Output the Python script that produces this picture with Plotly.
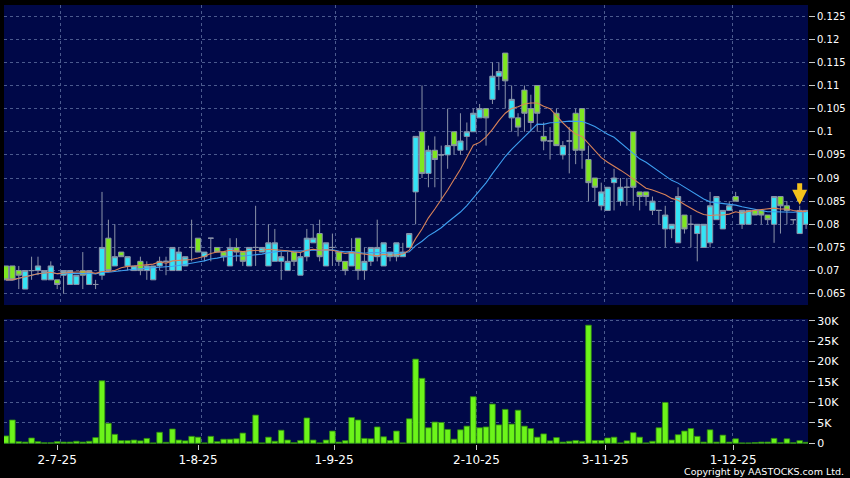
import plotly.graph_objects as go
import pandas as pd

# ---- data (one entry per trading day) ----
opens = [0.071,0.071,0.070,0.066,0.070,0.070,0.068,0.068,0.068,0.069,0.067,0.067,0.070,0.067,0.067,0.069,0.077,0.071,0.074,0.071,
         0.070,0.072,0.070,0.068,0.071,0.072,0.070,0.070,0.071,0.075,0.077,0.073,0.077,0.075,0.074,0.071,0.075,0.074,0.071,0.075,
         0.074,0.071,0.072,0.072,0.070,0.074,0.069,0.073,0.076,0.078,0.071,0.075,0.074,0.072,0.071,0.077,0.070,0.072,0.073,0.071,
         0.073,0.073,0.073,0.075,0.087,0.100,0.091,0.096,0.095,0.095,0.100,0.096,0.099,0.100,0.103,0.105,0.107,0.112,0.117,0.103,
         0.103,0.109,0.105,0.110,0.099,0.098,0.104,0.095,0.098,0.104,0.105,0.094,0.090,0.084,0.083,0.089,0.085,0.088,0.100,0.087,
         0.087,0.083,0.083,0.079,0.079,0.076,0.082,0.080,0.078,0.075,0.076,0.081,0.079,0.083,0.086,0.080,0.080,0.083,0.083,0.082,
         0.080,0.086,0.084,0.081,0.078,0.080]
highs = [0.071,0.071,0.071,0.070,0.073,0.073,0.070,0.072,0.068,0.070,0.070,0.069,0.074,0.070,0.068,0.087,0.081,0.080,0.074,0.073,
         0.071,0.073,0.072,0.071,0.073,0.073,0.075,0.075,0.073,0.081,0.077,0.074,0.077,0.075,0.074,0.077,0.077,0.074,0.075,0.084,
         0.075,0.080,0.079,0.074,0.074,0.074,0.074,0.079,0.080,0.081,0.076,0.078,0.074,0.072,0.077,0.077,0.075,0.075,0.081,0.076,
         0.074,0.076,0.076,0.078,0.099,0.110,0.097,0.099,0.097,0.105,0.100,0.104,0.102,0.105,0.106,0.105,0.115,0.115,0.117,0.110,
         0.104,0.110,0.108,0.110,0.102,0.101,0.105,0.098,0.101,0.105,0.105,0.097,0.090,0.089,0.088,0.092,0.090,0.090,0.100,0.087,
         0.087,0.086,0.083,0.084,0.080,0.088,0.082,0.082,0.080,0.080,0.087,0.086,0.083,0.085,0.087,0.083,0.083,0.083,0.083,0.082,
         0.086,0.086,0.085,0.081,0.084,0.083]
lows = [0.068,0.068,0.066,0.066,0.068,0.069,0.068,0.068,0.066,0.065,0.067,0.067,0.066,0.067,0.066,0.068,0.070,0.071,0.073,0.070,
        0.070,0.069,0.068,0.068,0.070,0.069,0.070,0.070,0.071,0.072,0.074,0.072,0.072,0.074,0.072,0.071,0.072,0.071,0.071,0.071,
        0.074,0.071,0.072,0.068,0.070,0.071,0.069,0.072,0.076,0.072,0.071,0.071,0.071,0.069,0.071,0.068,0.068,0.071,0.072,0.071,
        0.072,0.072,0.073,0.075,0.080,0.090,0.088,0.088,0.085,0.092,0.095,0.095,0.096,0.100,0.103,0.097,0.106,0.109,0.105,0.100,
        0.099,0.100,0.100,0.100,0.096,0.094,0.097,0.094,0.091,0.093,0.092,0.085,0.085,0.083,0.083,0.083,0.084,0.084,0.084,0.083,
        0.084,0.082,0.080,0.075,0.077,0.076,0.078,0.075,0.072,0.075,0.075,0.081,0.079,0.083,0.085,0.079,0.080,0.082,0.080,0.080,
        0.076,0.078,0.080,0.080,0.078,0.079]
closes = [0.068,0.068,0.069,0.070,0.070,0.071,0.070,0.071,0.067,0.070,0.070,0.069,0.069,0.070,0.067,0.075,0.070,0.073,0.073,0.073,
          0.071,0.070,0.071,0.071,0.072,0.072,0.075,0.074,0.073,0.075,0.074,0.074,0.077,0.074,0.073,0.075,0.074,0.072,0.075,0.075,
          0.075,0.076,0.076,0.073,0.072,0.072,0.073,0.077,0.077,0.073,0.076,0.075,0.072,0.070,0.074,0.070,0.072,0.075,0.075,0.076,
          0.074,0.076,0.074,0.078,0.099,0.091,0.096,0.094,0.095,0.097,0.097,0.098,0.100,0.104,0.105,0.103,0.112,0.113,0.111,0.107,
          0.101,0.104,0.102,0.104,0.098,0.098,0.097,0.097,0.098,0.096,0.096,0.089,0.088,0.087,0.088,0.090,0.088,0.088,0.088,0.086,
          0.086,0.085,0.083,0.082,0.080,0.086,0.079,0.080,0.080,0.080,0.084,0.086,0.083,0.084,0.085,0.083,0.083,0.082,0.082,0.081,
          0.086,0.084,0.083,0.081,0.083,0.083]
volumes = [1800,5700,400,300,1300,400,150,150,400,300,300,500,300,500,1400,15300,4900,2200,650,650,
           800,600,1200,100,2700,250,3500,800,600,1700,1500,100,1700,400,1000,1000,1100,2500,400,6900,
           100,1500,500,3200,800,150,700,6200,800,100,800,3000,300,650,6300,5700,1200,1100,4000,1600,
           700,3000,100,6000,20600,15900,3800,5200,5100,3400,1000,3300,4200,11400,3800,4000,9600,4500,8300,4700,
           8100,4200,3600,1500,2300,600,1400,300,500,700,500,28900,700,700,1300,1500,100,600,2600,1500,
           100,500,3800,10000,800,2100,3000,3600,1700,300,3300,300,2000,300,1100,100,100,200,300,300,
           1200,150,1100,150,650,250]

days = list(range(len(closes)))          # trading-day index
tick_pos = [8, 30, 51.25, 73.5, 93.6, 113.6]
tick_labels = ["2-7-25", "1-8-25", "1-9-25", "2-10-25", "3-11-25", "1-12-25"]
month_grid = [8.5, 30.5, 51.5, 73.5, 93.5, 113.5]
price_ticks = [0.065, 0.07, 0.075, 0.08, 0.085, 0.09, 0.095, 0.1, 0.105, 0.11, 0.115, 0.12, 0.125]
price_labels = ["0.065", "0.07", "0.075", "0.08", "0.085", "0.09", "0.095", "0.1", "0.105", "0.11", "0.115", "0.12", "0.125"]
vol_ticks = [0, 5000, 10000, 15000, 20000, 25000, 30000]
vol_labels = ["0", "5K", "10K", "15K", "20K", "25K", "30K"]
ma_short, ma_long = 10, 20
marked_day = 124

close_s = pd.Series(closes)
ma10 = close_s.rolling(ma_short, min_periods=1).mean()
ma20 = close_s.rolling(ma_long, min_periods=1).mean()

NAVY = "#000848"
GRID = "#4b5a8e"
CYAN = "#33e4f6"
GREEN = "#7ee620"
OUTLINE = "#8a93a8"
VOLG = "#6cf41a"

fig = go.Figure()
fig.add_trace(go.Candlestick(
    x=days, open=opens, high=highs, low=lows, close=closes,
    increasing=dict(line=dict(color=OUTLINE, width=1), fillcolor=CYAN),
    decreasing=dict(line=dict(color=OUTLINE, width=1), fillcolor=GREEN),
    whiskerwidth=0, xaxis="x", yaxis="y", showlegend=False, hoverinfo="skip"))
fig.add_trace(go.Scatter(x=days, y=ma20, mode="lines", line=dict(color="#3d9ff0", width=1.1),
                         xaxis="x", yaxis="y", showlegend=False, hoverinfo="skip"))
fig.add_trace(go.Scatter(x=days, y=ma10, mode="lines", line=dict(color="#d98358", width=1.1),
                         xaxis="x", yaxis="y", showlegend=False, hoverinfo="skip"))
fig.add_trace(go.Bar(x=days, y=volumes, marker=dict(color=VOLG, line=dict(color="#2f8a10", width=0.8)),
                     xaxis="x2", yaxis="y2", showlegend=False, hoverinfo="skip"))

xr = [-0.31, 125.3]
common_x = dict(range=xr, tickvals=tick_pos, ticktext=tick_labels, showgrid=False, zeroline=False,
                showline=False,
                minor=dict(tickvals=month_grid, showgrid=True, gridcolor=GRID, griddash="3px,3px",
                           gridwidth=1, ticks=""))
fig.update_layout(
    width=850, height=478,
    margin=dict(l=4, r=42, t=5, b=34, autoexpand=False),
    paper_bgcolor="#000000", plot_bgcolor=NAVY,
    font=dict(family="DejaVu Sans", color="#ffffff"),
    boxgap=0.18, boxgroupgap=0, bargap=0.12,
    xaxis=dict(domain=[0, 1], anchor="y", showticklabels=False, ticks="", rangeslider=dict(visible=False),
               **common_x),
    yaxis=dict(domain=[0.3166, 1], range=[0.06256, 0.12739], side="right", anchor="x",
               tickvals=price_ticks, ticktext=price_labels, ticks="outside", ticklen=6,
               tickcolor="#c8c8c8", tickfont=dict(size=10, color="#ffffff"),
               showgrid=True, gridcolor=GRID, griddash="3px,3px", gridwidth=1, zeroline=False),
    xaxis2=dict(domain=[0, 1], anchor="y2", ticks="outside", ticklen=5, tickcolor="#c8c8c8",
                tickfont=dict(size=12, color="#ffffff"), **common_x),
    yaxis2=dict(domain=[0, 0.2847], range=[-170, 30410], side="right", anchor="x2",
                tickvals=vol_ticks, ticktext=vol_labels, ticks="outside", ticklen=6,
                tickcolor="#c8c8c8", tickfont=dict(size=11, color="#ffffff"),
                showgrid=True, gridcolor=GRID, griddash="3px,3px", gridwidth=1, zeroline=False),
)

fig.add_annotation(x=marked_day, y=highs[marked_day], xref="x", yref="y", text="",
                   showarrow=True, ax=0, ay=-24, arrowhead=2, arrowsize=0.6, arrowwidth=5,
                   arrowcolor="#f4c21c", standoff=1)
fig.add_annotation(x=1.0473, y=-0.063, xref="paper", yref="paper", text="Copyright by AASTOCKS.com Ltd.",
                   showarrow=False, xanchor="right", yanchor="middle",
                   font=dict(size=9.5, color="#ffffff", family="DejaVu Sans"))

fig.write_html("out.html", config={"displayModeBar": False, "staticPlot": True},
               post_script="document.body.style.margin='0';document.body.style.overflow='hidden';")
